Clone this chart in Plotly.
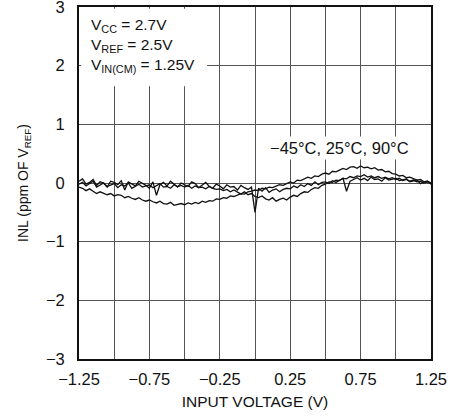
import numpy as np
import plotly.graph_objects as go

# Input voltage sweep (V), step 0.025
x_start, x_step, n_pts = -1.25, 0.025, 101
input_voltage = [round(x_start + i * x_step, 4) for i in range(n_pts)]

inl_a = [
    0.03, 0.07, -0.02, 0.01, 0.06, -0.04, 0.02, 0.00, -0.07, 0.03,
    0.01, -0.03, 0.04, -0.12, 0.02, -0.02, -0.05, 0.03, 0.00, -0.04,
    -0.09, 0.02, -0.21, -0.03, 0.01, -0.05, 0.03, -0.02, -0.07, 0.00,
    -0.03, -0.06, 0.02, -0.01, -0.08, -0.04, 0.01, -0.06, -0.09, -0.02,
    -0.05, -0.10, -0.03, -0.07, -0.06, -0.12, -0.04, -0.08, -0.11, -0.07,
    -0.50, -0.09, -0.14, -0.08, -0.16, -0.12, -0.10, -0.15, -0.11, -0.09,
    -0.10, -0.05, -0.08, -0.03, -0.06, -0.01, -0.04, 0.02, -0.03, 0.01,
    0.02, -0.01, 0.04, 0.01, 0.05, 0.08, -0.14, 0.03, 0.06, 0.09,
    0.05, 0.08, 0.04, 0.10, 0.06, 0.07, 0.03, 0.09, 0.05, 0.06,
    0.08, 0.04, 0.05, 0.07, 0.02, 0.03, 0.05, -0.01, 0.02, 0.03,
    -0.02,
]

inl_b = [
    -0.07, -0.09, -0.13, -0.10, -0.14, -0.18, -0.15, -0.17, -0.20, -0.18,
    -0.22, -0.20, -0.21, -0.25, -0.23, -0.26, -0.28, -0.25, -0.29, -0.31,
    -0.29, -0.32, -0.34, -0.31, -0.35, -0.36, -0.33, -0.38, -0.36, -0.35,
    -0.37, -0.34, -0.36, -0.33, -0.35, -0.31, -0.33, -0.30, -0.31, -0.27,
    -0.28, -0.25, -0.26, -0.22, -0.23, -0.20, -0.18, -0.19, -0.15, -0.14,
    -0.12, -0.13, -0.09, -0.10, -0.07, -0.08, -0.05, -0.03, -0.04, -0.01,
    0.02, 0.00, 0.05, 0.04, 0.07, 0.10, 0.08, 0.12, 0.11, 0.15,
    0.17, 0.15, 0.20, 0.19, 0.22, 0.25, 0.23, 0.27, 0.28, 0.25,
    0.29, 0.26, 0.27, 0.24, 0.26, 0.22, 0.23, 0.19, 0.20, 0.16,
    0.15, 0.12, 0.13, 0.09, 0.10, 0.07, 0.05, 0.06, 0.02, 0.03,
    0.00,
]

inl_c = [
    -0.02, 0.01, -0.05, -0.01, 0.03, -0.07, -0.03, 0.00, -0.06, -0.04,
    -0.01, -0.08, -0.03, -0.05, 0.00, -0.09, -0.06, -0.02, -0.07, -0.05,
    -0.03, -0.08, -0.05, -0.01, -0.07, -0.06, -0.09, -0.03, -0.06, -0.04,
    -0.07, -0.04, -0.09, -0.05, -0.08, -0.07, -0.10, -0.06, -0.09, -0.11,
    -0.10, -0.13, -0.11, -0.15, -0.12, -0.16, -0.19, -0.15, -0.20, -0.18,
    -0.23, -0.25, -0.22, -0.27, -0.29, -0.25, -0.31, -0.28, -0.26, -0.29,
    -0.24, -0.21, -0.23, -0.18, -0.15, -0.16, -0.11, -0.08, -0.09, -0.04,
    -0.02, 0.02, 0.01, 0.05, 0.04, 0.08, 0.07, 0.11, 0.09, 0.12,
    0.11, 0.14, 0.10, 0.12, 0.09, 0.11, 0.08, 0.10, 0.07, 0.09,
    0.06, 0.08, 0.04, 0.06, 0.03, 0.05, 0.02, 0.03, 0.00, 0.02,
    -0.01,
]

series_names = ["−45°C", "25°C", "90°C"]
series_values = [inl_a, inl_b, inl_c]

x_tickvals = [-1.25, -1.0, -0.75, -0.5, -0.25, 0.0, 0.25, 0.5, 0.75, 1.0, 1.25]
x_ticktext = ["−1.25", "", "−0.75", "", "−0.25", "", "0.25", "", "0.75", "", "1.25"]
y_tickvals = [-3, -2, -1, 0, 1, 2, 3]

FONT = "Liberation Sans Narrow, Arial Narrow, Liberation Sans, Arial, sans-serif"

fig = go.Figure()
for name, vals in zip(series_names, series_values):
    fig.add_trace(go.Scatter(
        x=input_voltage, y=vals, mode="lines", name=name,
        line=dict(color="#111111", width=1.3),
        showlegend=False, hoverinfo="skip",
    ))

grid_col = "#555555"
fig.update_layout(
    width=460, height=419,
    margin=dict(l=79, r=29, t=7, b=60),
    paper_bgcolor="white", plot_bgcolor="white",
    font=dict(family=FONT, size=16.5, color="#111111"),
    xaxis=dict(
        range=[-1.25, 1.25], tickvals=x_tickvals, ticktext=x_ticktext,
        showgrid=True, gridcolor=grid_col, gridwidth=1.2,
        showline=True, linecolor="#111111", linewidth=2, mirror=True,
        zeroline=False, ticks="", ticklabelstandoff=4,
        ticklabeloverflow="allow",
        title=dict(text="INPUT VOLTAGE (V)", font=dict(size=15.5), standoff=9),
        automargin=False,
    ),
    yaxis=dict(
        range=[-3, 3], tickvals=y_tickvals,
        showgrid=True, gridcolor=grid_col, gridwidth=1.2,
        showline=True, linecolor="#111111", linewidth=2, mirror=True,
        zeroline=False, ticks="", ticklabelstandoff=9,
        ticklabeloverflow="allow",
        title=dict(text="INL (ppm OF V<sub>REF</sub>)", font=dict(size=14), standoff=14),
        automargin=False,
    ),
)

# white area behind the conditions text block
fig.add_shape(type="rect", xref="x", yref="y", x0=-1.235, x1=-0.34, y0=1.65, y1=2.97,
              fillcolor="white", line=dict(width=0), layer="above")

cond_lines = ["V<sub>CC</sub> = 2.7V", "V<sub>REF</sub> = 2.5V", "V<sub>IN(CM)</sub> = 1.25V"]
cond_y = [2.68, 2.34, 2.0]
for txt, yy in zip(cond_lines, cond_y):
    fig.add_annotation(x=-1.18, y=yy, xref="x", yref="y", text=txt, showarrow=False,
                       xanchor="left", yanchor="middle", align="left",
                       font=dict(size=15.5))

fig.add_annotation(x=0.6, y=0.6, xref="x", yref="y", text="−45°C, 25°C, 90°C",
                   showarrow=False, xanchor="center", yanchor="middle",
                   bgcolor="white", borderpad=2, font=dict(size=16.5))

fig.write_html("out.html")
